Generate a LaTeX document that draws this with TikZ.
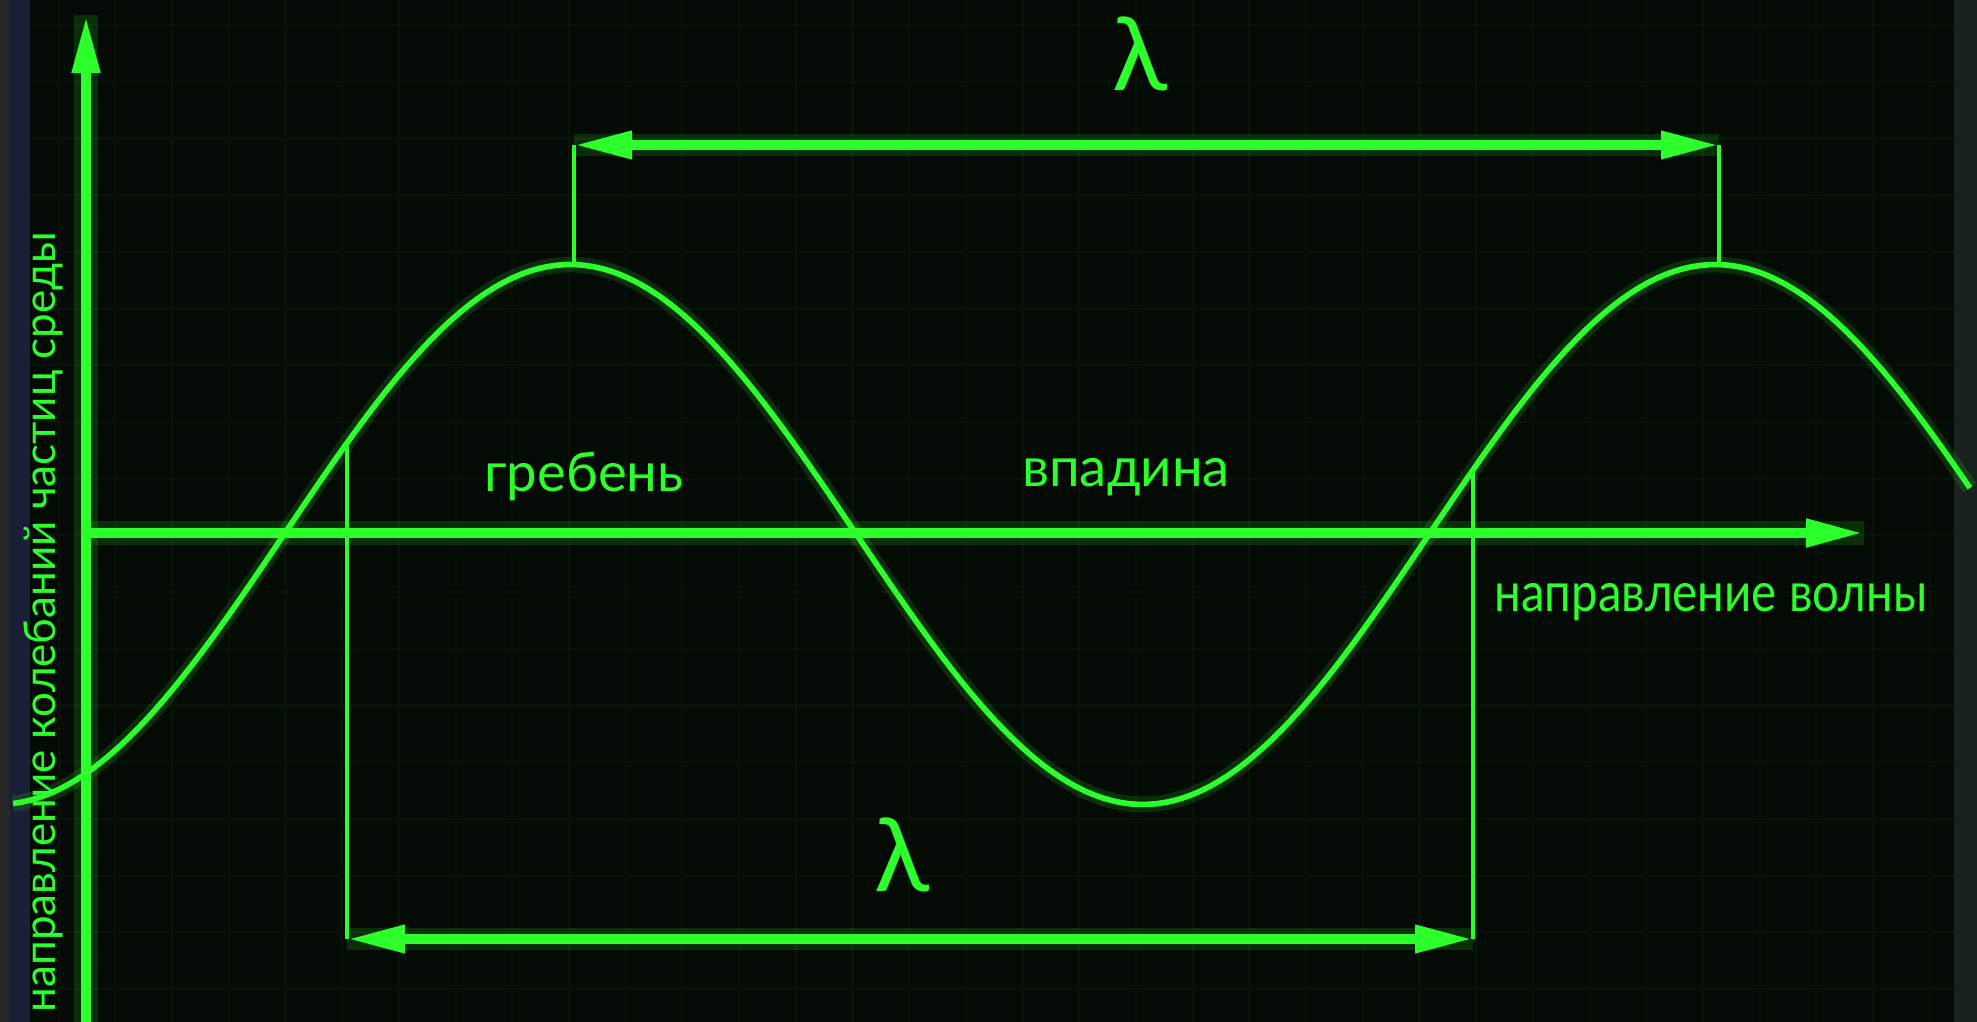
\documentclass[tikz,border=0pt]{standalone}
\usepackage{fontspec}
\setmainfont{Lato}
\usetikzlibrary{arrows.meta}
\definecolor{screen}{HTML}{040B04}
\definecolor{gridc}{HTML}{091409}
\definecolor{neonc}{HTML}{2CFF2C}
\definecolor{edgeL}{HTML}{1A1E36}
\definecolor{edgeR}{HTML}{18211D}

\begin{document}
\begin{tikzpicture}[
  >={Triangle[length=5.8mm,width=2.6mm]},
  glow/.style={preaction={draw=neonc, arrows=-, opacity=0.15, line width=#1}},
  axisline/.style={draw=neonc, line width=3pt, ->, glow=7pt},
  dimline/.style={draw=neonc, line width=2.8pt, <->, glow=6.5pt},
  extline/.style={draw=neonc, line width=1.1pt},
  waveline/.style={draw=neonc, line width=1.6pt, glow=4.5pt},
  lbl/.style={text=neonc, inner sep=0pt, font=\fontsize{15.5}{18}\selectfont},
  lam/.style={text=neonc, inner sep=0pt, font=\fontsize{29}{30}\selectfont}]
  \useasboundingbox (0,0) rectangle (19.77,10.22);
  % screen
  \fill[screen] (0,0) rectangle (19.77,10.22);
  \draw[gridc, line width=0.6pt, shift={(0.02,0.33)}] (0,-0.4) grid[step=0.567] (19.8,10.3);
  \fill[edgeL] (0,0) rectangle (0.3,10.22);
  \fill[black!70!gray] (0,0) rectangle (0.1,10.22);
  \fill[edgeR] (19.54,0) rectangle (19.77,10.22);

  % axes
  \coordinate (ybot) at (0.86,0);
  \coordinate (ytop) at (0.86,10.07);
  \coordinate (O) at (0.86,4.89);
  \coordinate (xend) at (18.64,4.89);
  \draw[axisline] (ybot) -- (ytop);
  \draw[axisline] (O) -- (xend);

  % wave
  \draw[waveline, domain=0.13:19.7, samples=220, variable=\x]
    plot ({\x},{4.875+2.70*sin((\x-2.84)/11.45*360)});

  % wavelength between crests
  \coordinate (P1) at (5.74,7.575);
  \coordinate (P2) at (17.19,7.575);
  \coordinate (T1) at (5.74,8.77);
  \coordinate (T2) at (17.19,8.77);
  \draw[extline] (P1) -- (T1);
  \draw[extline] (P2) -- (T2);
  \draw[dimline] (T1) -- (T2);
  \node[lam] (lamtop) at (11.40,9.68) {λ};

  % wavelength between equal phases
  \coordinate (C1) at (3.47,5.79);
  \coordinate (C2) at (14.73,5.52);
  \coordinate (B1) at (3.47,0.83);
  \coordinate (B2) at (14.73,0.83);
  \draw[extline] (C1) -- (B1);
  \draw[extline] (C2) -- (B2);
  \draw[dimline] (B1) -- (B2);
  \node[lam] (lambot) at (9.02,1.67) {λ};

  % labels
  \node[lbl] (crest) at (5.84,5.45) {гребень};
  \node[lbl] (trough) at (11.26,5.45) {впадина};
  \node[lbl, xscale=0.87, transform shape] (xlab) at (17.11,4.2) {направление волны};
  \node[lbl, font=\fontsize{12.5}{15}\selectfont, rotate=90] (ylab) at (0.43,4.0) {направление колебаний частиц среды};
\end{tikzpicture}
\end{document}
